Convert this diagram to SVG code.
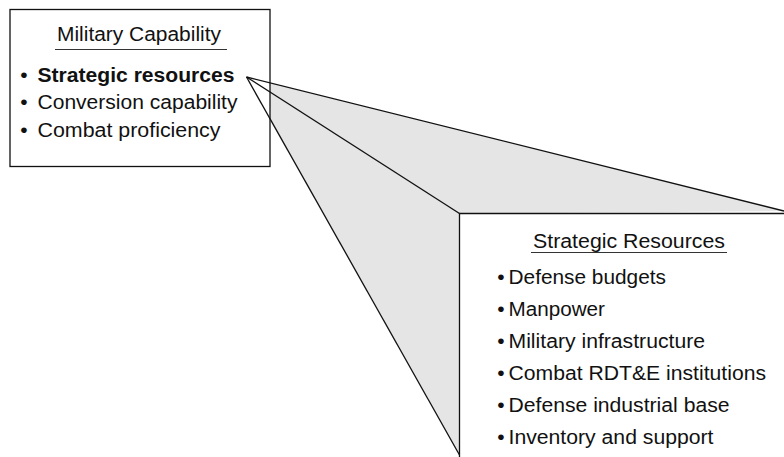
<svg xmlns="http://www.w3.org/2000/svg" width="784" height="457" viewBox="0 0 784 457">
  <style>
    text { font-family: "Liberation Sans", Arial, Helvetica, sans-serif; font-size: 20px; fill: #111; }
    .b { font-weight: bold; }
    .dot { font-size: 21px; }
    .rule { stroke: #333; stroke-width: 1.2; }
    .edge { stroke: #111; stroke-width: 1.3; fill: none; }
    .box { fill: #fff; stroke: #111; stroke-width: 1.3; }
  </style>

  <!-- shaded callout wedge -->
  <polygon points="246.5,77 784,211 459.5,213.5 459.5,455" fill="#e5e5e5"/>

  <!-- Military Capability box -->
  <g id="military-capability">
    <rect class="box" x="10" y="9.5" width="260" height="157"/>
    <text x="57" y="40.5" textLength="164" lengthAdjust="spacingAndGlyphs">Military Capability</text>
    <line class="rule" x1="55" y1="49.5" x2="227" y2="49.5"/>
    <text class="dot" x="24" y="81.5" text-anchor="middle">•</text>
    <text class="b" x="37.5" y="81.5" textLength="197" lengthAdjust="spacingAndGlyphs">Strategic resources</text>
    <text class="dot" x="24" y="109" text-anchor="middle">•</text>
    <text x="37.5" y="109" textLength="200" lengthAdjust="spacingAndGlyphs">Conversion capability</text>
    <text class="dot" x="24" y="136.5" text-anchor="middle">•</text>
    <text x="37.5" y="136.5" textLength="183" lengthAdjust="spacingAndGlyphs">Combat proficiency</text>
  </g>

  <!-- connectors of the callout -->
  <g id="connectors" class="edge">
    <line x1="246.5" y1="77" x2="784" y2="211"/>
    <line x1="246.5" y1="77" x2="459.5" y2="213.5"/>
    <line x1="246.5" y1="77" x2="459.5" y2="455"/>
  </g>

  <!-- Strategic Resources box (open to the right and bottom) -->
  <g id="strategic-resources">
    <path class="edge" d="M784,213.5 H459.5 V457"/>
    <text x="533" y="247.5" textLength="192" lengthAdjust="spacingAndGlyphs">Strategic Resources</text>
    <line class="rule" x1="531" y1="252.5" x2="727" y2="252.5"/>
    <text class="dot" x="501" y="283.5" text-anchor="middle">•</text>
    <text x="508.5" y="283.5" textLength="157.5" lengthAdjust="spacingAndGlyphs">Defense budgets</text>
    <text class="dot" x="501" y="315.5" text-anchor="middle">•</text>
    <text x="508.5" y="315.5" textLength="96.5" lengthAdjust="spacingAndGlyphs">Manpower</text>
    <text class="dot" x="501" y="347.5" text-anchor="middle">•</text>
    <text x="508.5" y="347.5" textLength="196.5" lengthAdjust="spacingAndGlyphs">Military infrastructure</text>
    <text class="dot" x="501" y="379.5" text-anchor="middle">•</text>
    <text x="508.5" y="379.5" textLength="257.5" lengthAdjust="spacingAndGlyphs">Combat RDT&amp;E institutions</text>
    <text class="dot" x="501" y="411.5" text-anchor="middle">•</text>
    <text x="508.5" y="411.5" textLength="221" lengthAdjust="spacingAndGlyphs">Defense industrial base</text>
    <text class="dot" x="501" y="443.5" text-anchor="middle">•</text>
    <text x="508.5" y="443.5" textLength="205" lengthAdjust="spacingAndGlyphs">Inventory and support</text>
  </g>
</svg>
